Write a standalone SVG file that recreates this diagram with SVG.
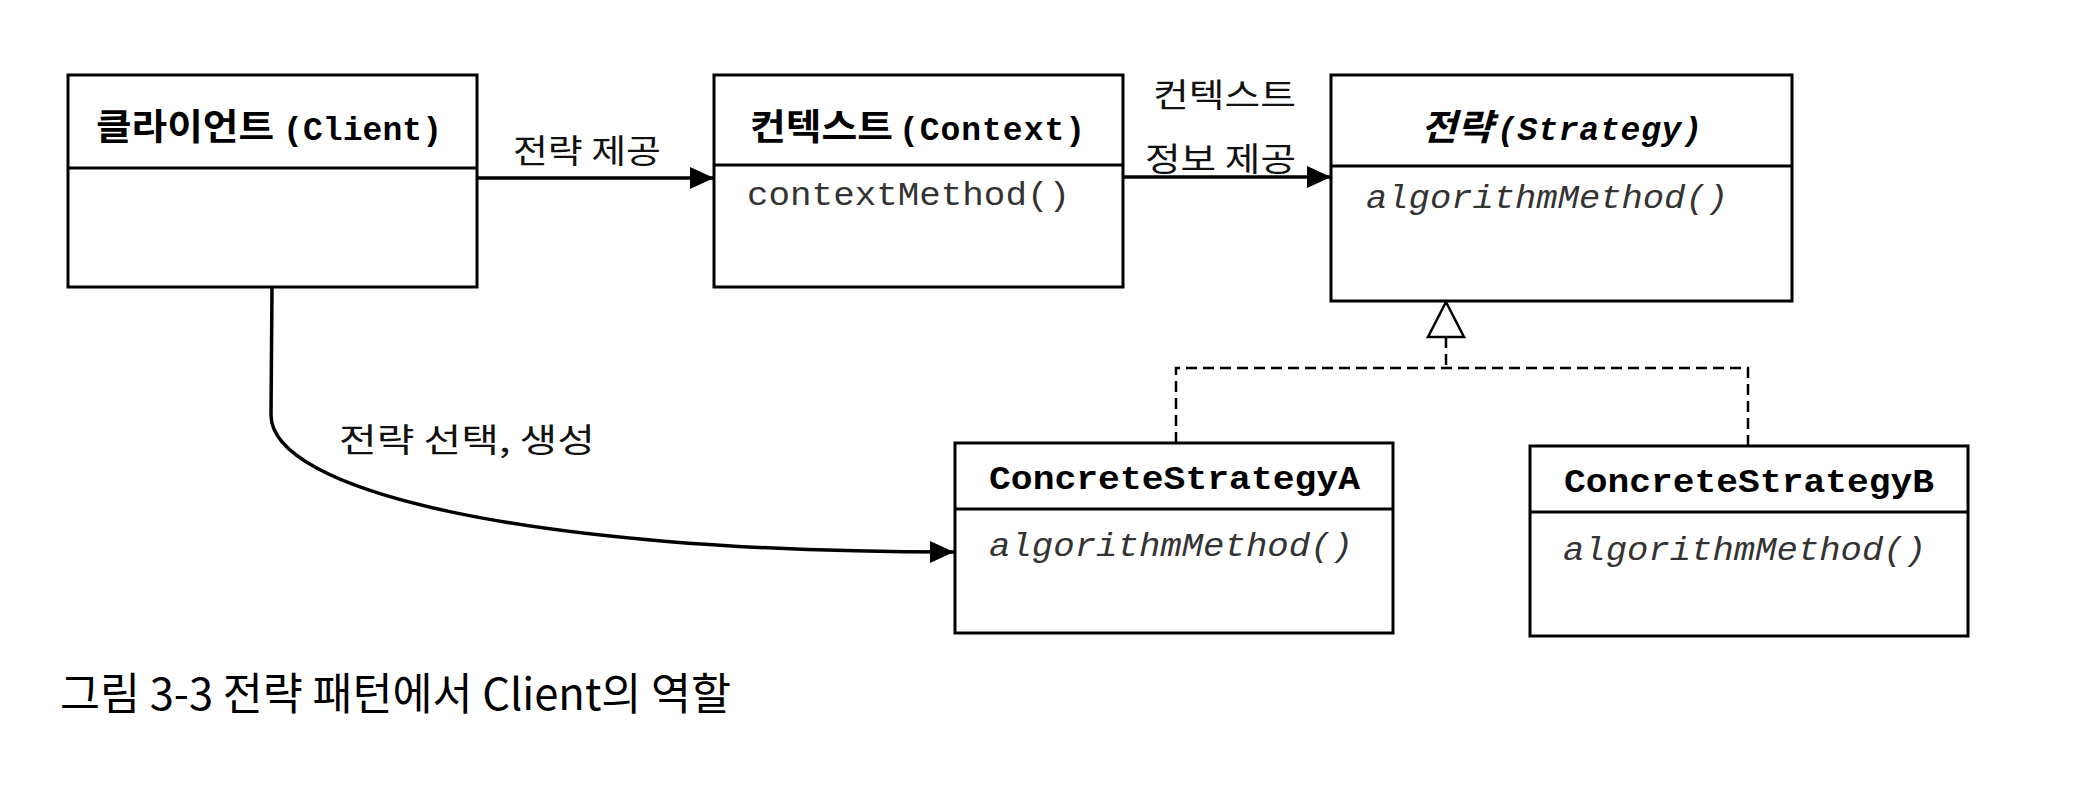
<svg xmlns="http://www.w3.org/2000/svg" width="2074" height="794" viewBox="0 0 2074 794">
<style>
.box{fill:#fff;stroke:#000;stroke-width:3}
.div{stroke:#000;stroke-width:3}
.kr{font-family:"Noto Sans CJK KR","Noto Sans",sans-serif}
.krb{font-family:"Noto Sans CJK KR","Noto Sans",sans-serif;font-weight:bold}
.mb{font-family:"Liberation Mono","DejaVu Sans Mono",monospace;font-weight:bold}
.m{font-family:"Liberation Mono","DejaVu Sans Mono",monospace;fill:#333}
.it{font-style:italic}
.lbl{font-family:"Noto Sans CJK KR","Noto Sans",sans-serif;font-size:33px;fill:#111}
.conn{fill:none;stroke:#000;stroke-width:3.5}
.dash{fill:none;stroke:#000;stroke-width:2.5;stroke-dasharray:11 6}
</style>
<defs>
<marker id="fa" markerUnits="userSpaceOnUse" markerWidth="26" markerHeight="24" refX="24" refY="11" orient="auto">
<path d="M0,0 L24,11 L0,22 z" fill="#000"/>
</marker>
</defs>
<rect width="2074" height="794" fill="#fff"/>

<g id="client">
<rect class="box" x="68" y="75" width="409" height="212"/>
<line class="div" x1="68" y1="168" x2="477" y2="168"/>
<text y="140"><tspan class="krb" x="96" font-size="36" textLength="178" lengthAdjust="spacingAndGlyphs">클라이언트</tspan><tspan class="mb" x="283" font-size="33" textLength="159">(Client)</tspan></text>
</g>

<g id="context">
<rect class="box" x="714" y="75" width="409" height="212"/>
<line class="div" x1="714" y1="165" x2="1123" y2="165"/>
<text y="140"><tspan class="krb" x="750" font-size="36" textLength="143" lengthAdjust="spacingAndGlyphs">컨텍스트</tspan><tspan class="mb" x="899" font-size="33" textLength="186">(Context)</tspan></text>
<text class="m" x="747" y="205" font-size="33" textLength="323" lengthAdjust="spacingAndGlyphs">contextMethod()</text>
</g>

<g id="strategy">
<rect class="box" x="1331" y="75" width="461" height="226"/>
<line class="div" x1="1331" y1="166" x2="1792" y2="166"/>
<text y="140"><tspan class="krb it" x="1421" font-size="36" textLength="72" lengthAdjust="spacingAndGlyphs">전략</tspan><tspan class="mb it" x="1497" font-size="33" textLength="205">(Strategy)</tspan></text>
<text class="m it" x="1366" y="208" font-size="33" textLength="362" lengthAdjust="spacingAndGlyphs">algorithmMethod()</text>
</g>

<g id="concreteA">
<rect class="box" x="955" y="443" width="438" height="190"/>
<line class="div" x1="955" y1="509" x2="1393" y2="509"/>
<text class="mb" x="989" y="489" font-size="33" textLength="371" lengthAdjust="spacingAndGlyphs">ConcreteStrategyA</text>
<text class="m it" x="989" y="556" font-size="33" textLength="364" lengthAdjust="spacingAndGlyphs">algorithmMethod()</text>
</g>

<g id="concreteB">
<rect class="box" x="1530" y="446" width="438" height="190"/>
<line class="div" x1="1530" y1="512" x2="1968" y2="512"/>
<text class="mb" x="1564" y="492" font-size="33" textLength="370" lengthAdjust="spacingAndGlyphs">ConcreteStrategyB</text>
<text class="m it" x="1563" y="560" font-size="33" textLength="363" lengthAdjust="spacingAndGlyphs">algorithmMethod()</text>
</g>

<g id="connectors">
<line class="conn" x1="477" y1="178" x2="714" y2="178" marker-end="url(#fa)"/>
<line class="conn" x1="1123" y1="177" x2="1331" y2="177" marker-end="url(#fa)"/>
<path class="conn" d="M272,287 L271,415 C271,490 520,552 954,552" marker-end="url(#fa)"/>
<polygon points="1446,302 1464,337 1428,337" fill="#fff" stroke="#000" stroke-width="2.5"/>
<line class="dash" x1="1446" y1="337" x2="1446" y2="368"/>
<path class="dash" d="M1176,443 L1176,368 L1748,368 L1748,446"/>
<text class="lbl" x="513" y="163" textLength="148" lengthAdjust="spacingAndGlyphs">전략 제공</text>
<text class="lbl" x="1153" y="107" textLength="143" lengthAdjust="spacingAndGlyphs">컨텍스트</text>
<text class="lbl" x="1145" y="171" textLength="151" lengthAdjust="spacingAndGlyphs">정보 제공</text>
<text class="lbl" x="339" y="452" textLength="256" lengthAdjust="spacingAndGlyphs">전략 선택, 생성</text>
</g>

<text class="kr" x="60" y="710" font-size="44" textLength="671" lengthAdjust="spacingAndGlyphs" fill="#000">그림 3-3 전략 패턴에서 Client의 역할</text>
</svg>
